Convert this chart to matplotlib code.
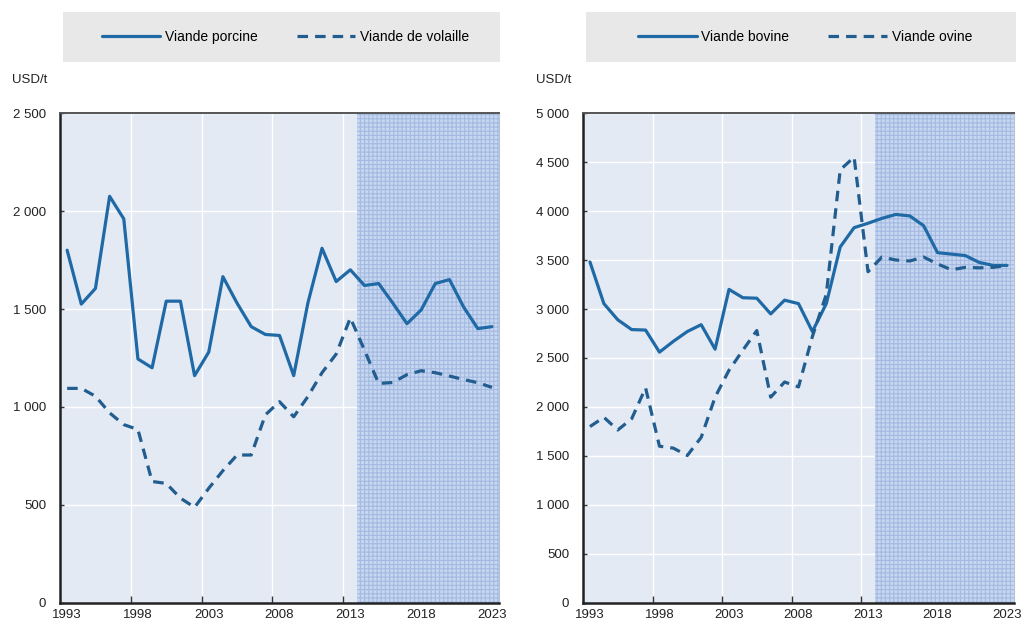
import matplotlib
matplotlib.use('Agg')
import matplotlib.pyplot as plt
from matplotlib.patches import Rectangle
from matplotlib.ticker import FuncFormatter

plt.rcParams['font.family'] = ['Liberation Sans Narrow', 'Liberation Sans', 'DejaVu Sans']
plt.rcParams['hatch.linewidth'] = 0.8

# data (USD/t)
years = list(range(1993, 2024))
porc = [1800, 1525, 1605, 2075, 1960, 1245, 1200, 1540, 1540, 1160, 1280, 1665, 1530, 1410, 1370, 1365,
        1160, 1530, 1810, 1640, 1700, 1620, 1630, 1530, 1425, 1495, 1630, 1650, 1510, 1400, 1410]
volaille = [1095, 1095, 1055, 970, 910, 885, 620, 610, 535, 488, 585, 675, 755, 755, 960, 1027,
            950, 1053, 1175, 1270, 1455, 1290, 1120, 1125, 1165, 1185, 1175, 1158, 1140, 1124, 1100]
bovine = [3480, 3055, 2890, 2790, 2785, 2560, 2670, 2770, 2840, 2590, 3200, 3115, 3110, 2950, 3090, 3055,
          2770, 3055, 3633, 3830, 3875, 3925, 3965, 3950, 3850, 3575, 3560, 3545, 3475, 3445, 3445]
ovine = [1800, 1895, 1765, 1880, 2195, 1600, 1580, 1505, 1690, 2100, 2375, 2580, 2780, 2100, 2255, 2205,
         2720, 3150, 4420, 4550, 3380, 3530, 3500, 3490, 3530, 3460, 3400, 3425, 3420, 3425, 3445]
label_years = [1993, 1998, 2003, 2008, 2013, 2018, 2023]
proj_start = 2014

blue = '#1f6aa6'
dblue = '#215d8f'
bg = '#e4eaf4'

fig = plt.figure(figsize=(10.23, 6.31), dpi=100)

panels = [
    ([0.0587, 0.0444, 0.4291, 0.7765], porc, volaille, 'Viande porcine', 'Viande de volaille',
     2500, 500, [0.0616, 0.9017, 0.4272, 0.0792]),
    ([0.5699, 0.0444, 0.4213, 0.7765], bovine, ovine, 'Viande bovine', 'Viande ovine',
     5000, 500, [0.5728, 0.9017, 0.4203, 0.0792]),
]

def fmt(v, pos):
    return '{:,.0f}'.format(v).replace(',', ' ')

for rect, s1, s2, l1, l2, ymax, step, box in panels:
    ax = fig.add_axes(rect)
    ax.set_facecolor(bg)
    x = list(range(len(years)))
    p0 = years.index(proj_start) - 0.5
    ax.axvspan(p0, len(years) - 0.5, facecolor='#c8d7f0', edgecolor='#a3bae2',
               hatch='++++', lw=0, zorder=1.5)

    line1, = ax.plot(x, s1, color=blue, lw=2.3, zorder=3, solid_capstyle='round')
    line2, = ax.plot(x, s2, color=dblue, lw=2.3, zorder=3, dashes=(3.3, 2.2))

    ax.set_xlim(-0.5, len(years) - 0.5)
    ax.set_ylim(0, ymax)

    # ticks between categories, labels at centres
    bounds = [years.index(y) - 0.5 for y in label_years[1:]]
    ax.set_xticks(bounds)
    ax.set_xticklabels([])
    ax.set_xticks([years.index(y) for y in label_years], minor=True)
    ax.set_xticklabels([str(y) for y in label_years], minor=True)
    ax.tick_params(axis='x', which='major', direction='in', length=5, width=1, color='#333333')
    ax.tick_params(axis='x', which='minor', length=0, pad=4, labelsize=9.5, labelcolor='#222222')

    ax.set_yticks(list(range(0, ymax + 1, step)))
    ax.yaxis.set_major_formatter(FuncFormatter(fmt))
    ax.tick_params(axis='y', direction='in', length=3, width=1, color='#333333',
                   pad=10, labelsize=9.5, labelcolor='#222222')

    ax.grid(True, which='major', color='white', lw=1.0, zorder=1)
    ax.set_axisbelow(True)

    for side in ['left', 'bottom']:
        ax.spines[side].set_color('#222222')
        ax.spines[side].set_linewidth(1.8)
    ax.spines['top'].set_color('#555555')
    ax.spines['top'].set_linewidth(1.4)
    ax.spines['right'].set_color('#b8c4d6')
    ax.spines['right'].set_linewidth(0.8)

    ax.text(-0.11, 1.067, 'USD/t', transform=ax.transAxes, fontsize=9.5, color='#222222',
            ha='left', va='center')

    fig.patches.append(Rectangle((box[0], box[1]), box[2], box[3], transform=fig.transFigure,
                                 facecolor='#e8e8e8', edgecolor='none', zorder=0))
    fig.legend([line1, line2], [l1, l2], loc='center', ncol=2, frameon=False,
               bbox_to_anchor=(box[0] + box[2] / 2 + 0.004, box[1] + box[3] / 2),
               fontsize=10, handlelength=4.2, handletextpad=0.35, columnspacing=2.8)

plt.savefig('out.png', dpi=100)
